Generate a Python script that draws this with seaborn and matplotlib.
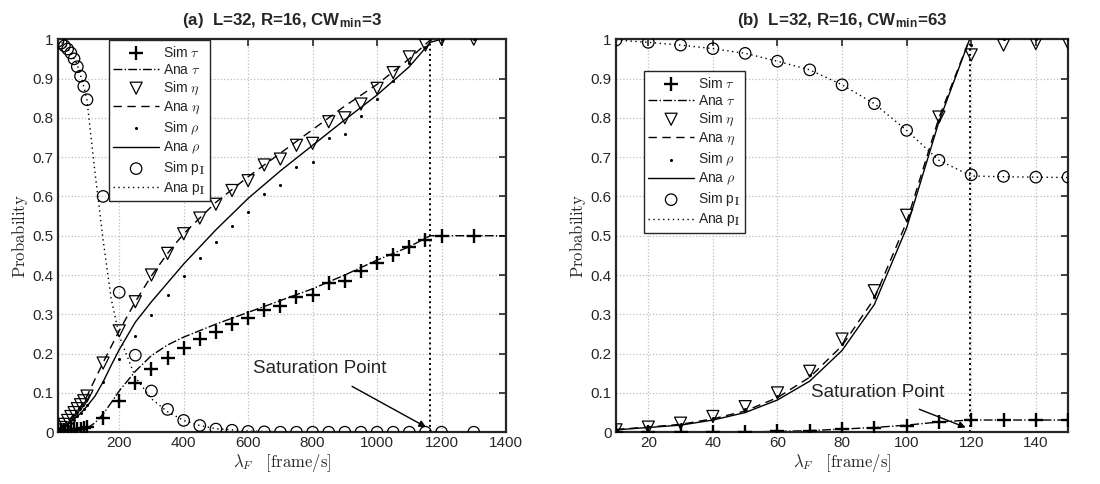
import matplotlib
matplotlib.use("Agg")
import matplotlib.pyplot as plt
import matplotlib.ticker as mticker
import seaborn as sns

# ---------------- panel (a): CWmin = 3 ----------------
lam_sim_a = [10, 20, 30, 40, 50, 60, 70, 80, 90, 100,
             150, 200, 250, 300, 350, 400, 450, 500, 550, 600, 650,
             700, 750, 800, 850, 900, 950, 1000, 1050, 1100, 1150, 1200, 1300]
sim_tau_a = [0.003, 0.004, 0.005, 0.006, 0.006, 0.007, 0.008, 0.009, 0.010, 0.012,
             0.037, 0.080, 0.124, 0.162, 0.188, 0.214, 0.237, 0.256, 0.275, 0.290, 0.310,
             0.322, 0.345, 0.350, 0.380, 0.385, 0.410, 0.430, 0.450, 0.470, 0.490, 0.500, 0.500]
sim_eta_a = [0.006, 0.012, 0.020, 0.030, 0.040, 0.050, 0.060, 0.070, 0.080, 0.092,
             0.176, 0.258, 0.332, 0.400, 0.455, 0.505, 0.545, 0.580, 0.615, 0.640, 0.680,
             0.695, 0.730, 0.735, 0.790, 0.800, 0.835, 0.875, 0.915, 0.955, 0.985, 1.000, 1.000]
sim_rho_a = [0.004, 0.008, 0.012, 0.017, 0.024, 0.032, 0.040, 0.050, 0.060, 0.070,
             0.127, 0.186, 0.244, 0.299, 0.348, 0.398, 0.443, 0.485, 0.524, 0.560, 0.605,
             0.630, 0.675, 0.688, 0.748, 0.760, 0.805, 0.848, 0.893, 0.940, 0.980, 1.000, 1.000]
sim_pI_a = [0.995, 0.990, 0.983, 0.975, 0.965, 0.950, 0.930, 0.906, 0.880, 0.846,
            0.600, 0.356, 0.196, 0.105, 0.058, 0.030, 0.017, 0.008, 0.005, 0.002, 0.001,
            0.0, 0.0, 0.0, 0.0, 0.0, 0.0, 0.0, 0.0, 0.0, 0.0, 0.0, 0.0]

lam_ana_a = [10, 20, 40, 60, 80, 100, 125, 150, 175, 200, 250, 300, 350, 400, 500,
             600, 700, 800, 900, 1000, 1100, 1165, 1200, 1300, 1400]
ana_tau_a = [0.0, 0.0, 0.001, 0.002, 0.004, 0.010, 0.024, 0.046, 0.075, 0.105, 0.155, 0.195,
             0.222, 0.242, 0.275, 0.305, 0.335, 0.365, 0.400, 0.438, 0.472, 0.500, 0.500, 0.500, 0.500]
ana_eta_a = [0.008, 0.014, 0.028, 0.045, 0.065, 0.092, 0.135, 0.177, 0.218, 0.258, 0.332, 0.398,
             0.455, 0.505, 0.585, 0.650, 0.710, 0.770, 0.830, 0.885, 0.950, 0.998, 1.0, 1.0, 1.0]
ana_rho_a = [0.005, 0.010, 0.020, 0.033, 0.048, 0.066, 0.092, 0.128, 0.170, 0.210, 0.280, 0.332,
             0.380, 0.428, 0.515, 0.595, 0.665, 0.730, 0.795, 0.858, 0.930, 0.992, 1.0, 1.0, 1.0]
lam_ana_pI_a = [10, 30, 50, 70, 90, 100, 110, 125, 150, 175, 200, 250, 300, 350, 400, 450,
                500, 600, 700, 800, 1000, 1200, 1400]
ana_pI_a = [1.0, 0.985, 0.965, 0.935, 0.88, 0.845, 0.77, 0.66, 0.49, 0.34, 0.245, 0.14, 0.085,
            0.052, 0.030, 0.017, 0.009, 0.003, 0.001, 0.0, 0.0, 0.0, 0.0]
sat_a = 1165

# ---------------- panel (b): CWmin = 63 ----------------
lam_sim_b = [10, 20, 30, 40, 50, 60, 70, 80, 90, 100, 110, 120, 130, 140, 150]
sim_tau_b = [0.0, 0.0, 0.0, 0.001, 0.001, 0.002, 0.003, 0.007, 0.011, 0.016, 0.026,
             0.030, 0.030, 0.030, 0.030]
sim_eta_b = [0.006, 0.013, 0.023, 0.040, 0.065, 0.100, 0.155, 0.237, 0.360, 0.552, 0.802,
             0.960, 0.985, 0.989, 0.990]
sim_rho_b = [0.006, 0.012, 0.020, 0.036, 0.058, 0.092, 0.145, 0.225, 0.345, 0.540, 0.795,
             0.985, 1.0, 1.0, 1.0]
sim_pI_b = [0.998, 0.992, 0.985, 0.976, 0.964, 0.944, 0.922, 0.884, 0.836, 0.768, 0.692,
            0.655, 0.651, 0.649, 0.649]

lam_ana_b = [10, 20, 30, 40, 50, 60, 70, 80, 90, 100, 110, 119.5, 130, 140, 150]
ana_tau_b = [0.0, 0.0, 0.0, 0.001, 0.001, 0.002, 0.004, 0.008, 0.012, 0.018, 0.026,
             0.031, 0.031, 0.031, 0.031]
ana_eta_b = [0.007, 0.013, 0.020, 0.034, 0.054, 0.088, 0.140, 0.220, 0.340, 0.535, 0.800,
             1.0, 1.0, 1.0, 1.0]
ana_rho_b = [0.006, 0.012, 0.018, 0.031, 0.050, 0.082, 0.130, 0.208, 0.325, 0.520, 0.790,
             1.0, 1.0, 1.0, 1.0]
ana_pI_b = [0.998, 0.992, 0.985, 0.976, 0.964, 0.944, 0.922, 0.884, 0.836, 0.768, 0.692,
            0.652, 0.650, 0.649, 0.648]
sat_b = 119.5

sns.set_style("white")
plt.rcParams["font.family"] = ["Liberation Sans", "DejaVu Sans"]
plt.rcParams["mathtext.fontset"] = "cm"

fig = plt.figure(figsize=(11, 4.84), dpi=100)
ax_a = fig.add_axes([0.0527, 0.107, 0.4073, 0.812])
ax_b = fig.add_axes([0.560, 0.107, 0.411, 0.812])

labels = ["Sim $\\tau$", "Ana $\\tau$", "Sim $\\eta$", "Ana $\\eta$",
          "Sim $\\rho$", "Ana $\\rho$", "Sim p$_\\mathbf{I}$", "Ana p$_\\mathbf{I}$"]


def draw(ax, lam_sim, s_tau, s_eta, s_rho, s_pI, lam_ana, a_tau, a_eta, a_rho,
         lam_pI, a_pI, sat):
    lw = 1.0
    sns.lineplot(x=lam_ana, y=a_tau, ax=ax, color="k", lw=lw, linestyle="-.",
                 label=labels[1], legend=False)
    sns.lineplot(x=lam_ana, y=a_eta, ax=ax, color="k", lw=lw, linestyle=(0, (6, 4)),
                 label=labels[3], legend=False)
    sns.lineplot(x=lam_ana, y=a_rho, ax=ax, color="k", lw=lw, linestyle="-",
                 label=labels[5], legend=False)
    sns.lineplot(x=lam_pI, y=a_pI, ax=ax, color="k", lw=lw, linestyle=(0, (1, 2.5)),
                 label=labels[7], legend=False)
    sns.scatterplot(x=lam_sim, y=s_tau, ax=ax, marker="+", color="k", s=100,
                    linewidth=1.7, label=labels[0], legend=False, zorder=4)
    sns.scatterplot(x=lam_sim, y=s_eta, ax=ax, marker="v", facecolor="none",
                    edgecolor="k", s=75, linewidth=0.9, label=labels[2], legend=False, zorder=4)
    sns.scatterplot(x=lam_sim, y=s_rho, ax=ax, marker="o", color="k", s=5,
                    linewidth=0, label=labels[4], legend=False, zorder=4)
    sns.scatterplot(x=lam_sim, y=s_pI, ax=ax, marker="o", facecolor="none",
                    edgecolor="k", s=68, linewidth=0.9, label=labels[6], legend=False, zorder=4)
    ax.axvline(sat, 0, 1, color="k", ls=":", lw=1.4)

    ax.set_ylim(0, 1)
    ax.yaxis.set_major_locator(mticker.MultipleLocator(0.1))
    ax.yaxis.set_major_formatter(mticker.FuncFormatter(lambda v, p: f"{v:g}"))
    ax.grid(True, color="#bdbdbd", ls=":", lw=0.9)
    ax.tick_params(direction="in", top=True, right=True, length=5, width=1.2,
                   labelsize=11, colors="#262626", pad=3)
    for sp in ax.spines.values():
        sp.set_linewidth(1.6)
        sp.set_color("#262626")
    ax.set_xlabel("$\\lambda_F\\quad[\\mathrm{frame/s}]$", fontsize=12, labelpad=1)
    ax.set_ylabel("$\\mathrm{Probability}$", fontsize=12, labelpad=2)

    handles, labs = ax.get_legend_handles_labels()
    hmap = dict(zip(labs, handles))
    return [hmap[l] for l in labels]


def add_legend(ax, h, anchor):
    leg = ax.legend(h, labels, loc="upper left", bbox_to_anchor=anchor,
                    fontsize=10, frameon=True, fancybox=False, edgecolor="#262626",
                    framealpha=1, handlelength=3.3, labelspacing=0.22, borderpad=0.3,
                    handletextpad=0.3, borderaxespad=0)
    leg.get_frame().set_linewidth(1.0)


h = draw(ax_a, lam_sim_a, sim_tau_a, sim_eta_a, sim_rho_a, sim_pI_a,
         lam_ana_a, ana_tau_a, ana_eta_a, ana_rho_a, lam_ana_pI_a, ana_pI_a, sat_a)
ax_a.set_xlim(10, 1400)
ax_a.set_xticks([200, 400, 600, 800, 1000, 1200, 1400])
ax_a.set_title("(a)  L=32, R=16, CW$_\\mathregular{min}$=3", fontsize=12.2,
               fontweight="bold", pad=10)
add_legend(ax_a, h, (0.114, 0.997))
ax_a.annotate("Saturation Point", xy=(1152, 0.013), xytext=(822, 0.162),
              ha="center", va="center", fontsize=13.5,
              arrowprops=dict(arrowstyle="-|>", color="k", lw=1.0,
                              shrinkA=9, shrinkB=0, mutation_scale=10))

h = draw(ax_b, lam_sim_b, sim_tau_b, sim_eta_b, sim_rho_b, sim_pI_b,
         lam_ana_b, ana_tau_b, ana_eta_b, ana_rho_b, lam_sim_b, ana_pI_b, sat_b)
ax_b.set_xlim(10, 150)
ax_b.set_xticks([20, 40, 60, 80, 100, 120, 140])
ax_b.set_title("(b)  L=32, R=16, CW$_\\mathregular{min}$=63", fontsize=12.2,
               fontweight="bold", pad=10)
add_legend(ax_b, h, (0.062, 0.918))
ax_b.annotate("Saturation Point", xy=(118.3, 0.012), xytext=(91, 0.10),
              ha="center", va="center", fontsize=13.5,
              arrowprops=dict(arrowstyle="-|>", color="k", lw=1.0,
                              shrinkA=9, shrinkB=0, mutation_scale=10))

fig.savefig("out.png", dpi=100)
